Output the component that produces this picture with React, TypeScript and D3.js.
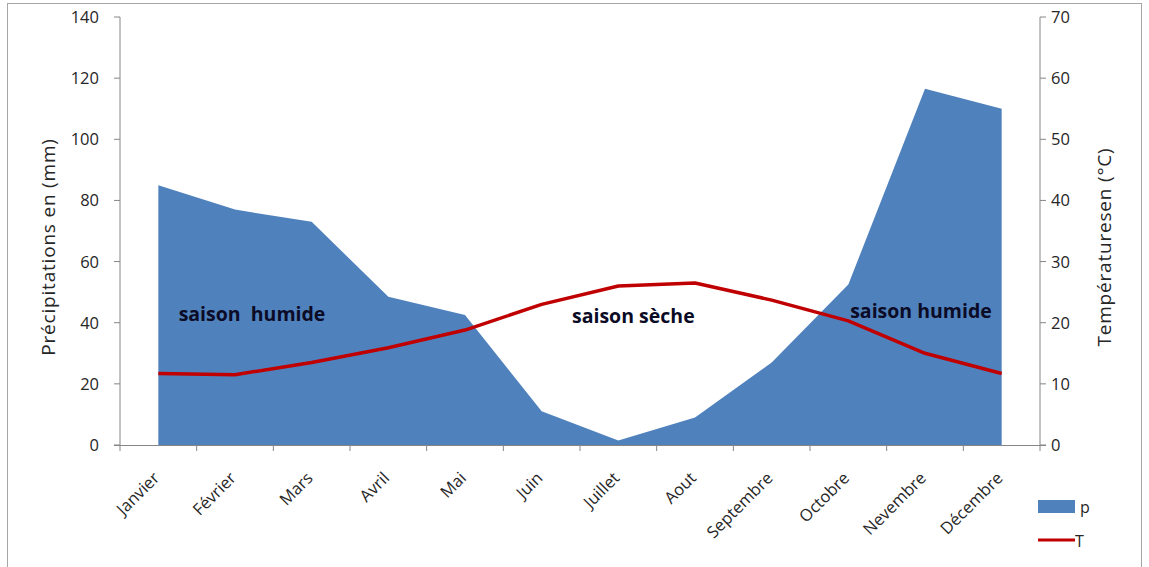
import React from "react";
import * as d3 from "d3";

const months = ["Janvier", "Février", "Mars", "Avril", "Mai", "Juin", "Juillet", "Aout", "Septembre", "Octobre", "Nevembre", "Décembre"];
const precipitation = [85, 77, 73, 48.5, 42.5, 11, 1.5, 9, 27, 52.5, 116.5, 110];
const temperature = [11.7, 11.5, 13.5, 15.9, 18.8, 23, 26, 26.5, 23.7, 20.3, 15, 11.7];
const precipTicks = [0, 20, 40, 60, 80, 100, 120, 140];
const tempTicks = [0, 10, 20, 30, 40, 50, 60, 70];
const seasonLabels = [
  { text: "saison\u00a0 humide", month: "Février", value: 40.5, dx: 17 },
  { text: "saison sèche", month: "Juillet", value: 40, dx: 15 },
  { text: "saison humide", month: "Nevembre", value: 41.5, dx: -4 },
];

const W = 1149;
const H = 567;
const margin = { left: 120, right: 109, top: 17, bottom: 122 };
const axisColor = "#868686";
const textColor = "#262626";
const font = "'Open Sans', sans-serif";

export default function App() {
  const x0 = margin.left;
  const x1 = W - margin.right;
  const y0 = H - margin.bottom;
  const y1 = margin.top;

  const band = d3.scaleBand<string>().domain(months).range([x0, x1]);
  const cx = (m: string) => (band(m) as number) + band.bandwidth() / 2;
  const yP = d3.scaleLinear().domain([0, 140]).range([y0, y1]);
  const yT = d3.scaleLinear().domain([0, 70]).range([y0, y1]);

  const area = d3
    .area<number>()
    .x((_, i) => cx(months[i]))
    .y0(yP(0))
    .y1((d) => yP(d));
  const line = d3
    .line<number>()
    .x((_, i) => cx(months[i]))
    .y((d) => yT(d));

  const boundaries = months.map((m) => band(m) as number).concat([x1]);
  const titleY = 247;

  return (
    <svg width={W} height={H} style={{ position: "absolute", left: 0, top: 0, background: "#fff" }} fontFamily={font}>
      <rect x={7.5} y={3.5} width={1134} height={570} fill="#fff" stroke="#a6a6a6" strokeWidth={1} />

      <path d={area(precipitation) ?? ""} fill="#4f81bd" />

      {/* axes */}
      <line x1={x0} x2={x0} y1={y1} y2={y0} stroke={axisColor} />
      <line x1={x1} x2={x1} y1={y1} y2={y0} stroke={axisColor} />
      <line x1={x0 - 6} x2={x1 + 6} y1={y0 + 0.5} y2={y0 + 0.5} stroke={axisColor} />
      {precipTicks.map((t) => (
        <g key={"p" + t}>
          <line x1={x0 - 6} x2={x0} y1={yP(t)} y2={yP(t)} stroke={axisColor} />
          <text x={x0 - 21} y={yP(t)} dy="0.36em" textAnchor="end" fontSize={16.5} fill={textColor}>
            {t}
          </text>
        </g>
      ))}
      {tempTicks.map((t) => (
        <g key={"t" + t}>
          <line x1={x1} x2={x1 + 6} y1={yT(t)} y2={yT(t)} stroke={axisColor} />
          <text x={x1 + 11} y={yT(t)} dy="0.36em" textAnchor="start" fontSize={16.5} fill={textColor}>
            {t}
          </text>
        </g>
      ))}
      {boundaries.map((b, i) => (
        <line key={"b" + i} x1={b} x2={b} y1={y0} y2={y0 + 6} stroke={axisColor} />
      ))}
      {months.map((m) => (
        <text
          key={m}
          transform={`translate(${cx(m) - 2},${y0 + 30}) rotate(-45)`}
          textAnchor="end"
          dy="0.35em"
          fontSize={16.5}
          fill={textColor}
        >
          {m}
        </text>
      ))}

      <path d={line(temperature) ?? ""} fill="none" stroke="#c00000" strokeWidth={3.5} strokeLinejoin="round" />

      {seasonLabels.map((s) => (
        <text
          key={s.text + s.month}
          x={cx(s.month) + s.dx}
          y={yP(s.value)}
          textAnchor="middle"
          fontSize={19.5}
          fontWeight="bold"
          fill="#0b0b26"
        >
          {s.text}
        </text>
      ))}

      <text transform={`translate(55,${titleY}) rotate(-90)`} textAnchor="middle" fontSize={19} letterSpacing={0.8} fill={textColor}>
        Précipitations en (mm)
      </text>
      <text transform={`translate(1111,${titleY}) rotate(-90)`} textAnchor="middle" fontSize={19} letterSpacing={0.8} fill={textColor}>
        Températuresen (°C)
      </text>

      {/* legend */}
      <rect x={1038} y={500} width={37} height={13} fill="#4f81bd" />
      <text x={1080} y={507} dy="0.35em" fontSize={16} fill={textColor}>p</text>
      <line x1={1038} x2={1075} y1={540} y2={540} stroke="#c00000" strokeWidth={3} />
      <text x={1075} y={541} dy="0.35em" fontSize={16} fill={textColor}>T</text>
    </svg>
  );
}
